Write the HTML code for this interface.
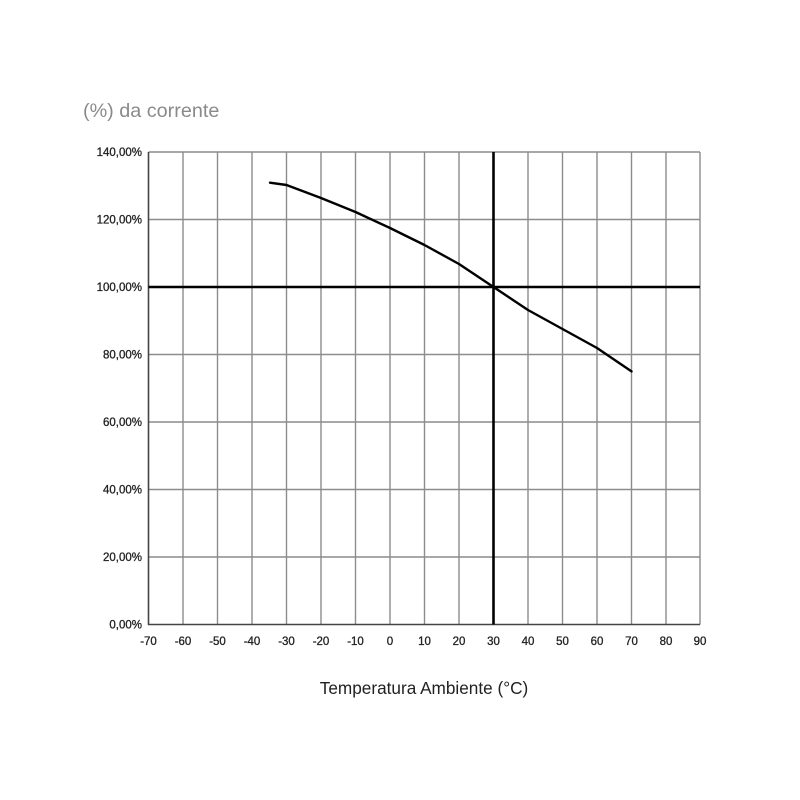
<!DOCTYPE html>
<html><head><meta charset="utf-8"><style>body{margin:0;background:#fff}svg{display:block}</style></head>
<body>
<svg width="800" height="800" viewBox="0 0 800 800" xmlns="http://www.w3.org/2000/svg" font-family="Liberation Sans, sans-serif">
<rect width="800" height="800" fill="#fff"/>
<text x="83" y="117" font-size="19.8" fill="#8a8a8a">(%) da corrente</text>
<g stroke="#8c8c8c" stroke-width="1.4" fill="none">
<line x1="148.5" y1="152" x2="700" y2="152"/>
<line x1="148.5" y1="219.5" x2="700" y2="219.5"/>
<line x1="148.5" y1="354.5" x2="700" y2="354.5"/>
<line x1="148.5" y1="422" x2="700" y2="422"/>
<line x1="148.5" y1="489.5" x2="700" y2="489.5"/>
<line x1="148.5" y1="557" x2="700" y2="557"/>
<line x1="183" y1="152" x2="183" y2="624.5"/>
<line x1="217.5" y1="152" x2="217.5" y2="624.5"/>
<line x1="252" y1="152" x2="252" y2="624.5"/>
<line x1="286.5" y1="152" x2="286.5" y2="624.5"/>
<line x1="321" y1="152" x2="321" y2="624.5"/>
<line x1="355.5" y1="152" x2="355.5" y2="624.5"/>
<line x1="390" y1="152" x2="390" y2="624.5"/>
<line x1="424.5" y1="152" x2="424.5" y2="624.5"/>
<line x1="459" y1="152" x2="459" y2="624.5"/>
<line x1="528" y1="152" x2="528" y2="624.5"/>
<line x1="562.5" y1="152" x2="562.5" y2="624.5"/>
<line x1="597" y1="152" x2="597" y2="624.5"/>
<line x1="631.5" y1="152" x2="631.5" y2="624.5"/>
<line x1="666" y1="152" x2="666" y2="624.5"/>
<line x1="700" y1="152" x2="700" y2="624.5"/>
</g>
<g stroke="#444" stroke-width="1.6">
<line x1="148.5" y1="152" x2="148.5" y2="625"/>
<line x1="148" y1="624.5" x2="700" y2="624.5"/>
</g>
<g stroke="#000" stroke-width="2.6">
<line x1="148.5" y1="287" x2="700" y2="287"/>
<line x1="493.5" y1="152" x2="493.5" y2="624.5"/>
</g>
<polyline fill="none" stroke="#000" stroke-width="2.4" stroke-linejoin="round" stroke-linecap="round"
points="270,182.7 286.5,185 321,198 355.5,212 390,228 424.5,245 459,264 493.5,287 528,310 562.5,329 597,348 631.5,371.4"/>
<g font-size="11.5" fill="#222" text-anchor="end" stroke="#222" stroke-width="0.3">
<text x="142" y="156">140,00%</text>
<text x="142" y="223.5">120,00%</text>
<text x="142" y="291">100,00%</text>
<text x="142" y="358.5">80,00%</text>
<text x="142" y="426">60,00%</text>
<text x="142" y="493.5">40,00%</text>
<text x="142" y="561">20,00%</text>
<text x="142" y="628.5">0,00%</text>
</g>
<g font-size="11.5" fill="#222" text-anchor="middle" stroke="#222" stroke-width="0.3">
<text x="148.5" y="645">-70</text><text x="183" y="645">-60</text><text x="217.5" y="645">-50</text><text x="252" y="645">-40</text>
<text x="286.5" y="645">-30</text><text x="321" y="645">-20</text><text x="355.5" y="645">-10</text><text x="390" y="645">0</text>
<text x="424.5" y="645">10</text><text x="459" y="645">20</text><text x="493.5" y="645">30</text><text x="528" y="645">40</text>
<text x="562.5" y="645">50</text><text x="597" y="645">60</text><text x="631.5" y="645">70</text><text x="666" y="645">80</text><text x="700" y="645">90</text>
</g>
<text x="424" y="694" font-size="17.2" fill="#222" text-anchor="middle">Temperatura Ambiente (°C)</text>
</svg>
</body></html>
